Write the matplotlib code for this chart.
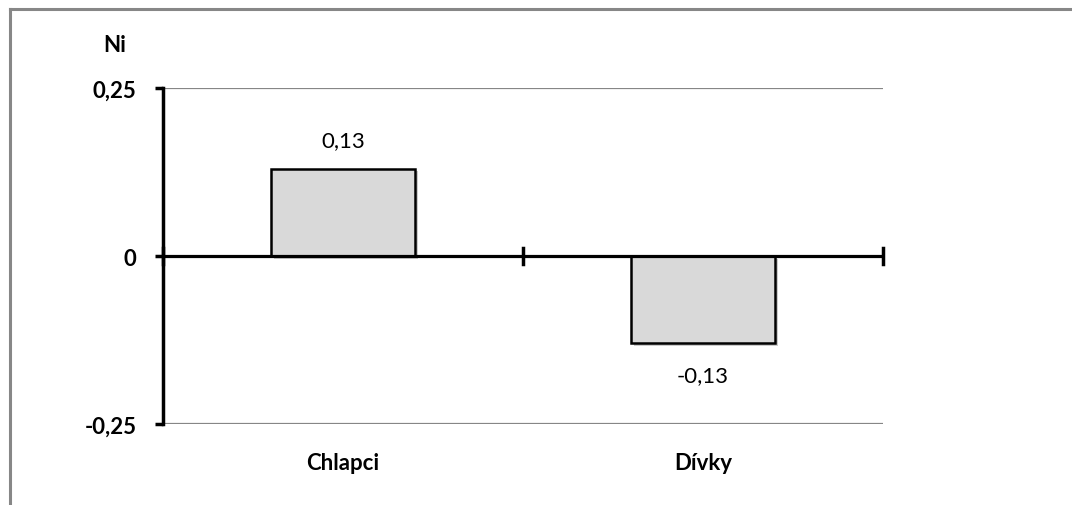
import matplotlib
matplotlib.use("Agg")
import matplotlib.pyplot as plt
from matplotlib.lines import Line2D
import matplotlib.patheffects as pe

categories = ["Chlapci", "Dívky"]
values = [0.13, -0.13]
value_labels = ["0,13", "-0,13"]
yticks = [-0.25, 0, 0.25]
ytick_labels = ["-0,25", "0", "0,25"]
title = "Ni"

plt.rcParams['font.family'] = ['Lato', 'DejaVu Sans']
FS = 16

W, H = 1072, 506
fig = plt.figure(figsize=(W/100, H/100), dpi=100)
fig.patch.set_facecolor("white")

# outer chart border (top and left visible)
fig.add_artist(Line2D([9.5/W, 1], [1-9.5/H, 1-9.5/H], color="#878787", lw=2.2, transform=fig.transFigure))
fig.add_artist(Line2D([9.5/W, 9.5/W], [0, 1-9.5/H], color="#878787", lw=2.2, transform=fig.transFigure))

left, right = 163/W, 883/W
top_px, bot_px = 89, 425
ax = fig.add_axes([left, 1-bot_px/H, right-left, (bot_px-top_px)/H])
ax.set_xlim(-0.5, 1.5)
ax.set_ylim(-0.25, 0.25)

for s in ["top", "right", "bottom"]:
    ax.spines[s].set_visible(False)
ax.spines["left"].set_linewidth(2.5)
ax.spines["left"].set_zorder(5)

# gridlines at +/-0.25
for y in [0.25, -0.25]:
    ax.axhline(y, color="#868686", lw=1.6, zorder=1)
# zero axis line
ax.axhline(0, color="black", lw=2.3, zorder=4)

x = list(range(len(categories)))
bars = ax.bar(x, values, width=0.4, color="#d9d9d9", edgecolor="black", linewidth=1.8, zorder=3)
for b in bars:
    b.set_path_effects([pe.SimplePatchShadow(offset=(2, -2), shadow_rgbFace="#999999", alpha=0.5), pe.Normal()])

# value labels (offset in points: 28px ~ 20pt)
for xi, v, lab in zip(x, values, value_labels):
    off = 20.5 if v > 0 else -22.5
    ax.annotate(lab, (xi, v), xytext=(0, off), textcoords="offset points",
                ha="center", va="center", fontsize=FS, color="black")

# y ticks
ax.set_yticks(yticks)
ax.set_yticklabels(ytick_labels, fontsize=FS, fontweight="bold")
ax.tick_params(axis="y", length=6, width=2.5, direction="out", pad=13)

# x ticks: category boundaries crossing the zero line
ax.set_xticks([])
for xb in [-0.5, 0.5, 1.5]:
    ax.plot([xb, xb], [-0.012, 0.012], color="black", lw=2.5, zorder=5, clip_on=False)

# category labels below plot area
for xi, c in zip(x, categories):
    ax.annotate(c, (xi, -0.25), xytext=(0, -28), textcoords="offset points",
                ha="center", va="center", fontsize=FS, fontweight="bold")

fig.text(115/W, 1-45/H, title, ha="center", va="center", fontsize=FS, fontweight="bold")

fig.savefig("out.png", dpi=100)
